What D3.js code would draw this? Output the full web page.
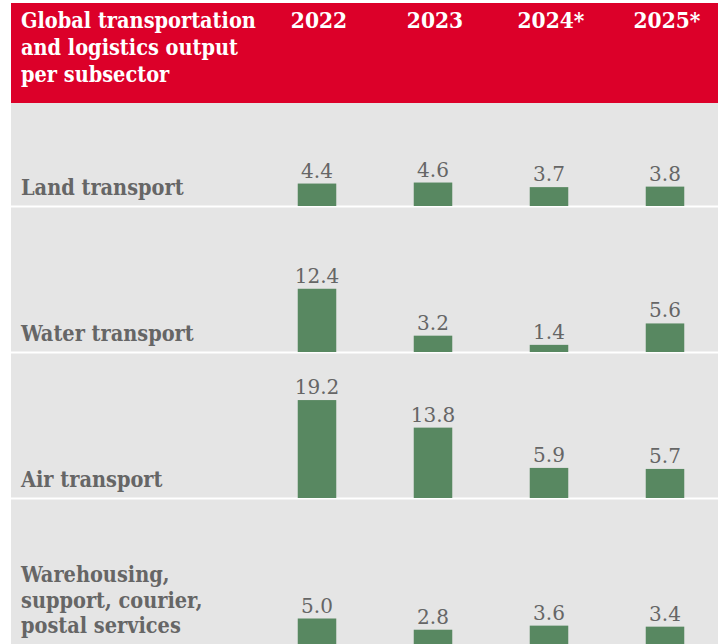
<!DOCTYPE html>
<html>
  <head>
    <meta charset="UTF-8">
    <style>
      body {
        margin: 0;
        background: #ffffff;
      }
      .slab {
        font-family: "DejaVu Serif Condensed", "DejaVu Serif", serif;
      }
      .num {
        font-family: "DejaVu Serif", serif;
      }
    </style>
    <script src="https://d3js.org/d3.v7.min.js"></script>
  </head>
  <body>
    <svg id="chart"></svg>

    <script type="text/javascript">
      let title = ['Global transportation', 'and logistics output', 'per subsector']
      let years = ['2022', '2023', '2024*', '2025*']
      let subsectors = [
        ['Land transport'],
        ['Water transport'],
        ['Air transport'],
        ['Warehousing,', 'support, courier,', 'postal services']
      ]
      let land = [4.4, 4.6, 3.7, 3.8]
      let water = [12.4, 3.2, 1.4, 5.6]
      let air = [19.2, 13.8, 5.9, 5.7]
      let warehousing = [5.0, 2.8, 3.6, 3.4]
      let series = [land, water, air, warehousing]

      let width = 723
      let height = 644
      let left = 11
      let right = 718
      let headerTop = 3
      let headerBottom = 103

      let red = '#dc0029'
      let grey = '#e5e5e5'
      let green = '#588861'
      let textGrey = '#666666'

      let svg = d3.select('#chart')
        .attr('width', width)
        .attr('height', height)

      // rows: each band ends on the bar baseline
      let rowScale = d3.scaleBand()
        .domain(d3.range(subsectors.length))
        .range([60, 644])

      let x = d3.scaleBand()
        .domain(years)
        .range([259, 723])
        .paddingInner(0.668)
        .paddingOuter(0.334)

      let h = d3.scaleLinear()
        .domain([0, 20])
        .range([0, 102])

      svg.append('rect')
        .attr('x', left)
        .attr('y', headerBottom)
        .attr('width', right - left)
        .attr('height', height - headerBottom)
        .attr('fill', grey)

      svg.append('rect')
        .attr('x', left)
        .attr('y', headerTop)
        .attr('width', right - left)
        .attr('height', headerBottom - headerTop)
        .attr('fill', red)

      svg.append('text')
        .attr('class', 'slab')
        .attr('fill', '#ffffff')
        .attr('font-weight', 'bold')
        .attr('font-size', 21.5)
        .selectAll('tspan')
        .data(title)
        .join('tspan')
          .attr('x', 21)
          .attr('y', (d, i) => 28 + i * 27)
          .text(d => d)

      svg.append('g')
        .selectAll('text')
        .data(years)
        .join('text')
          .attr('class', 'slab')
          .attr('x', d => x(d) + x.bandwidth() / 2 + 2)
          .attr('y', 28)
          .attr('text-anchor', 'middle')
          .attr('fill', '#ffffff')
          .attr('font-weight', 'bold')
          .attr('font-size', 22.5)
          .text(d => d)

      let rows = svg.selectAll('g.row')
        .data(series)
        .join('g')
          .attr('class', 'row')
          .attr('transform', (d, i) => `translate(0, ${rowScale(i) + rowScale.bandwidth()})`)

      rows.filter((d, i) => i < series.length - 1)
        .append('line')
          .attr('x1', left)
          .attr('x2', right)
          .attr('y1', 0.5)
          .attr('y2', 0.5)
          .attr('stroke', '#ffffff')
          .attr('stroke-width', 2)

      rows.append('text')
        .attr('class', 'slab')
        .attr('fill', textGrey)
        .attr('font-weight', 'bold')
        .attr('font-size', 21.5)
        .selectAll('tspan')
        .data((d, i) => subsectors[i].map((t, j, arr) => ({t, k: arr.length - 1 - j})))
        .join('tspan')
          .attr('x', 21)
          .attr('y', d => -11 - d.k * 25.5)
          .text(d => d.t)

      rows.selectAll('rect')
        .data(d => d.map((v, i) => ({year: years[i], value: v})))
        .join('rect')
          .attr('x', d => x(d.year))
          .attr('width', x.bandwidth())
          .attr('y', d => -h(d.value))
          .attr('height', d => h(d.value))
          .attr('fill', green)

      rows.selectAll('text.value')
        .data(d => d.map((v, i) => ({year: years[i], value: v})))
        .join('text')
          .attr('class', 'value num')
          .attr('x', d => x(d.year) + x.bandwidth() / 2)
          .attr('y', d => -h(d.value) - 6)
          .attr('text-anchor', 'middle')
          .attr('fill', textGrey)
          .attr('font-size', 20)
          .text(d => d3.format('.1f')(d.value))
    </script>
  </body>
</html>
